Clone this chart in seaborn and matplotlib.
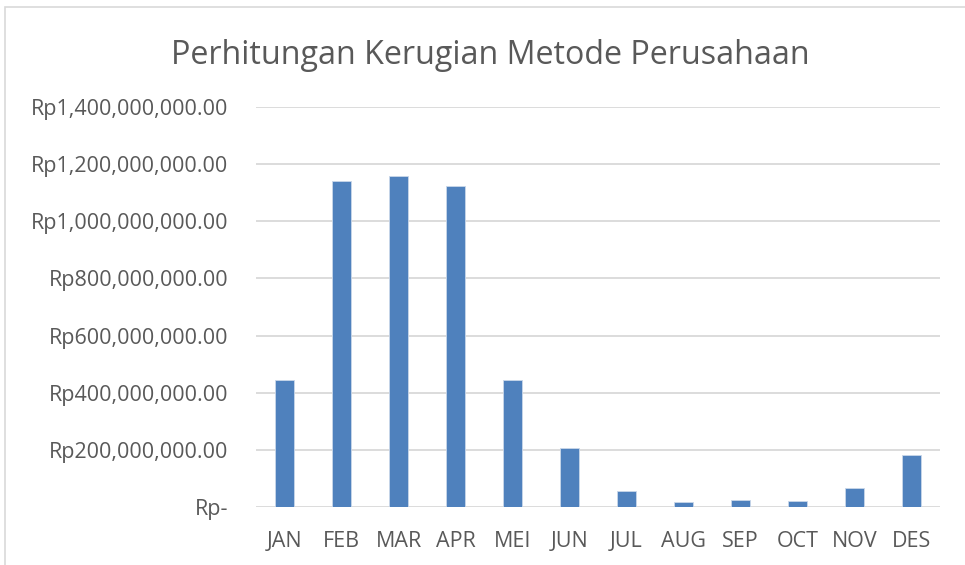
import matplotlib
matplotlib.use('Agg')
import matplotlib.pyplot as plt
import matplotlib.ticker as mticker
from matplotlib.patches import Rectangle
import pandas as pd
import seaborn as sns

# data
bulan = ['JAN', 'FEB', 'MAR', 'APR', 'MEI', 'JUN', 'JUL', 'AUG', 'SEP', 'OCT', 'NOV', 'DES']
kerugian = [443e6, 1142e6, 1158e6, 1122e6, 443e6, 206e6, 55e6, 18.5e6, 23e6, 21e6, 66e6, 183e6]

df = pd.DataFrame({'bulan': bulan, 'kerugian': kerugian})

sns.set_style('white')
plt.rcParams['font.family'] = ['Open Sans', 'DejaVu Sans']

teks = '#595959'
fig = plt.figure(figsize=(9.65, 5.65), dpi=100)
ax = fig.add_axes([256 / 965, 1 - 507 / 565, 684 / 965, 400 / 565])

sns.barplot(data=df, x='bulan', y='kerugian', color='#4F81BD', width=0.32,
            saturation=1, edgecolor='#c9d7ea', linewidth=0.6, ax=ax, zorder=3)

ax.set_ylim(0, 1.4e9)
ax.set_yticks([i * 2e8 for i in range(8)])


def rupiah(v, pos):
    if v == 0:
        return 'Rp-'
    return 'Rp{:,.2f}'.format(v)


ax.yaxis.set_major_formatter(mticker.FuncFormatter(rupiah))
ax.grid(axis='y', color='#D9D9D9', linewidth=1.3, zorder=0)
ax.set_axisbelow(True)
for s in ax.spines.values():
    s.set_visible(False)
ax.tick_params(axis='both', length=0, labelsize=15.5, labelcolor=teks)
ax.tick_params(axis='y', pad=20)
ax.tick_params(axis='x', pad=17)
ax.set_xlabel('')
ax.set_ylabel('')

fig.text(490 / 965, 1 - 55 / 565, 'Perhitungan Kerugian Metode Perusahaan',
         ha='center', va='center', fontsize=23.2, color=teks)

# chart border
fig.patches.append(Rectangle((5 / 965, -0.1), 1.2, 1.1 - 7 / 565,
                             transform=fig.transFigure, fill=False,
                             edgecolor='#D9D9D9', linewidth=1.2))

fig.savefig('out.png', dpi=100)
